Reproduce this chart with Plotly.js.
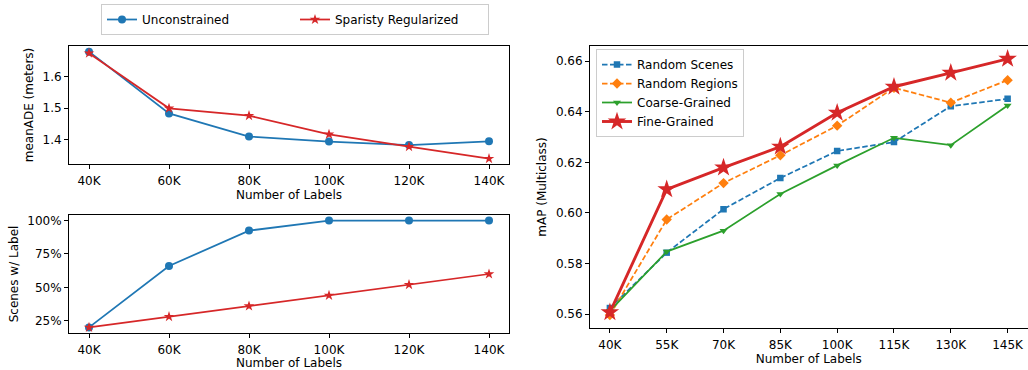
<!DOCTYPE html>
<html><head><meta charset="utf-8">
<script src="https://cdn.plot.ly/plotly-3.0.1.min.js"></script>
<style>html,body{margin:0;padding:0;background:#fff}#chart{width:1028px;height:370px}</style>
</head><body><div id="chart"></div>
<script>
const leftLabels = [40, 60, 80, 100, 120, 140];
const leftTickText = ['40K', '60K', '80K', '100K', '120K', '140K'];
const adeUnconstrained = [1.678, 1.483, 1.410, 1.394, 1.383, 1.395];
const adeSparsity = [1.673, 1.499, 1.476, 1.417, 1.378, 1.340];
const scenesUnconstrained = [20, 66, 92.5, 100, 100, 100];
const scenesSparsity = [20, 28, 36, 44, 52, 60];
const scenesTicks = [25, 50, 75, 100];
const scenesTickText = ['25%', '50%', '75%', '100%'];
const adeTicks = [1.4, 1.5, 1.6];

const rightLabels = [40, 55, 70, 85, 100, 115, 130, 145];
const rightTickText = ['40K', '55K', '70K', '85K', '100K', '115K', '130K', '145K'];
const mapRandomScenes = [0.5624, 0.5843, 0.6015, 0.6138, 0.6245, 0.6280, 0.6422, 0.6451];
const mapRandomRegions = [0.5596, 0.5974, 0.6118, 0.6228, 0.6345, 0.6495, 0.6436, 0.6525];
const mapCoarse = [0.5613, 0.5847, 0.5930, 0.6075, 0.6188, 0.6297, 0.6268, 0.6425];
const mapFine = [0.5607, 0.6093, 0.6179, 0.6262, 0.6396, 0.6499, 0.6554, 0.6609];
const mapTicks = [0.56, 0.58, 0.60, 0.62, 0.64, 0.66];

const BLUE = '#1f77b4', ORANGE = '#ff7f0e', GREEN = '#2ca02c', RED = '#d62728';
const FS = 12;
const FONT = 'DejaVu Sans, sans-serif';

const traces = [
  {x: leftLabels, y: adeUnconstrained, xaxis: 'x', yaxis: 'y', name: 'Unconstrained', mode: 'lines+markers',
   line: {color: BLUE, width: 1.75}, marker: {symbol: 'circle', size: 8, color: BLUE}, legend: 'legend', legendrank: 1},
  {x: leftLabels, y: adeSparsity, xaxis: 'x', yaxis: 'y', name: 'Sparisty Regularized', mode: 'lines+markers',
   line: {color: RED, width: 1.75}, marker: {symbol: 'star', size: 8, color: RED}, legend: 'legend', legendrank: 2},
  {x: leftLabels, y: scenesUnconstrained, xaxis: 'x2', yaxis: 'y2', name: 'Unconstrained', mode: 'lines+markers', showlegend: false,
   line: {color: BLUE, width: 1.75}, marker: {symbol: 'circle', size: 8, color: BLUE}},
  {x: leftLabels, y: scenesSparsity, xaxis: 'x2', yaxis: 'y2', name: 'Sparisty Regularized', mode: 'lines+markers', showlegend: false,
   line: {color: RED, width: 1.75}, marker: {symbol: 'star', size: 8, color: RED}},
  {x: rightLabels, y: mapRandomScenes, xaxis: 'x3', yaxis: 'y3', name: 'Random Scenes', mode: 'lines+markers', legend: 'legend2',
   line: {color: BLUE, width: 1.75, dash: '5.5px,2.5px'}, marker: {symbol: 'square', size: 6.5, color: BLUE}},
  {x: rightLabels, y: mapRandomRegions, xaxis: 'x3', yaxis: 'y3', name: 'Random Regions', mode: 'lines+markers', legend: 'legend2',
   line: {color: ORANGE, width: 1.75, dash: '5.5px,2.5px'}, marker: {symbol: 'diamond', size: 8, color: ORANGE}},
  {x: rightLabels, y: mapCoarse, xaxis: 'x3', yaxis: 'y3', name: 'Coarse-Grained', mode: 'lines+markers', legend: 'legend2',
   line: {color: GREEN, width: 1.75}, marker: {symbol: 'triangle-down', size: 7, color: GREEN}},
  {x: rightLabels, y: mapFine, xaxis: 'x3', yaxis: 'y3', name: 'Fine-Grained', mode: 'lines+markers', legend: 'legend2',
   line: {color: RED, width: 2.9}, marker: {symbol: 'star', size: 14, color: RED}}
];

const ax = {
  showline: true, linecolor: '#000', linewidth: 1, mirror: true,
  ticks: 'outside', ticklen: 4, tickwidth: 1, tickcolor: '#000',
  showgrid: false, zeroline: false, automargin: false,
  tickfont: {size: FS, color: '#000', family: FONT}
};
const xax = Object.assign({}, ax, {ticklabelstandoff: 2});
const xt = (t) => ({text: t, font: {size: FS, color: '#000', family: FONT}, standoff: 3});
const yt = (t) => ({text: t, font: {size: FS, color: '#000', family: FONT}, standoff: 6});

const layout = {
  width: 1028, height: 370,
  margin: {l: 0, r: 0, t: 0, b: 0},
  paper_bgcolor: '#fff', plot_bgcolor: '#fff',
  font: {family: FONT, size: FS, color: '#000'},
  showlegend: true,
  xaxis: Object.assign({}, xax, {domain: [69/1028, 509/1028], anchor: 'y', range: [35, 145],
    tickvals: leftLabels, ticktext: leftTickText, title: xt('Number of Labels')}),
  yaxis: Object.assign({}, ax, {domain: [1 - 164/370, 1 - 46/370], anchor: 'x', range: [1.3232, 1.6958],
    tickvals: adeTicks, tickformat: '.1f', title: yt('meanADE (meters)')}),
  xaxis2: Object.assign({}, xax, {domain: [69/1028, 509/1028], anchor: 'y2', range: [35, 145],
    tickvals: leftLabels, ticktext: leftTickText, title: xt('Number of Labels')}),
  yaxis2: Object.assign({}, ax, {domain: [1 - 333/370, 1 - 215/370], anchor: 'x2', range: [15.8, 104.2],
    tickvals: scenesTicks, ticktext: scenesTickText, title: yt('Scenes w/ Label')}),
  xaxis3: Object.assign({}, xax, {domain: [590/1028, 1027.5/1028], anchor: 'y3', range: [34.75, 150.25],
    tickvals: rightLabels, ticktext: rightTickText, title: xt('Number of Labels')}),
  yaxis3: Object.assign({}, ax, {domain: [1 - 328/370, 1 - 46/370], anchor: 'x3', range: [0.5545, 0.666],
    tickvals: mapTicks, tickformat: '.2f', title: yt('mAP (Multiclass)')}),
  legend: {x: 101/1028, y: 1 - 4/370, xanchor: 'left', yanchor: 'top', orientation: 'h',
    bordercolor: '#cccccc', borderwidth: 1, bgcolor: '#fff', entrywidth: 148,
    font: {size: FS, color: '#000', family: FONT}},
  legend2: {x: 596/1028, y: 1 - 49/370, xanchor: 'left', yanchor: 'top', orientation: 'v',
    bordercolor: '#cccccc', borderwidth: 1, bgcolor: 'rgba(255,255,255,0.8)', tracegroupgap: 0,
    font: {size: FS, color: '#000', family: FONT}}
};

Plotly.newPlot('chart', traces, layout, {staticPlot: true, displayModeBar: false});
</script>
</body></html>
